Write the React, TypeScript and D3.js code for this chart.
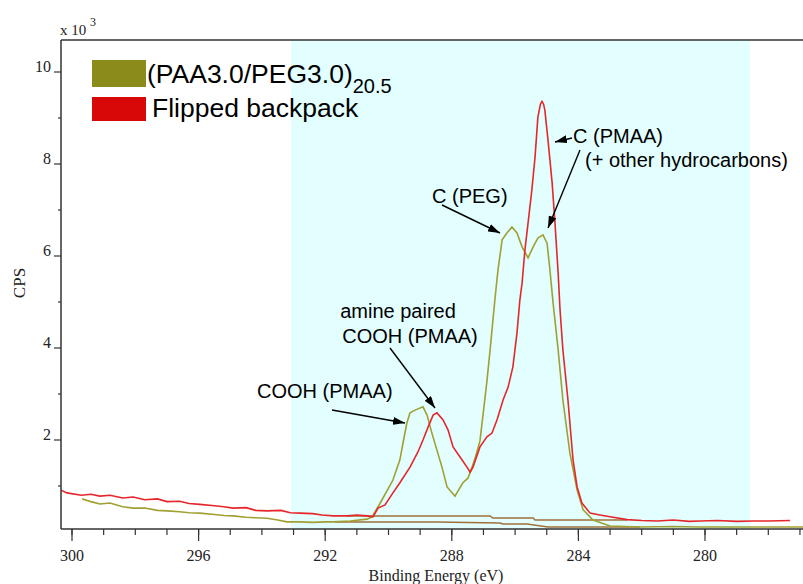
import React from "react";
import * as d3 from "d3";

// ---- data (binding energy eV, CPS x10^3) ----
const redEV = [300.35, 300.16, 299.7, 299.4, 299.12, 298.8, 298.4, 298.07, 297.7, 297.3, 297.0, 296.6, 296.3, 295.96, 295.5, 295.2, 294.91, 294.5, 294.2, 293.84, 293.4, 293.1, 292.8, 292.4, 292.1, 291.75, 291.3, 291.0, 290.68, 290.49, 290.33, 290.11, 289.86, 289.64, 289.32, 289.07, 288.91, 288.75, 288.59, 288.47, 288.28, 288.12, 287.96, 287.74, 287.52, 287.42, 287.33, 287.11, 286.89, 286.73, 286.57, 286.38, 286.22, 286.07, 285.94, 285.85, 285.78, 285.69, 285.59, 285.47, 285.37, 285.28, 285.2, 285.15, 285.1, 285.06, 284.96, 284.83, 284.74, 284.64, 284.58, 284.49, 284.33, 284.17, 284.04, 283.89, 283.63, 283.32, 283.0, 282.46, 282.0, 281.5, 281.0, 280.5, 280.16, 279.6, 279.0, 278.5, 278.0, 277.31];
const redCPS = [0.91, 0.85, 0.8, 0.82, 0.78, 0.8, 0.74, 0.76, 0.7, 0.72, 0.66, 0.67, 0.62, 0.6, 0.57, 0.55, 0.52, 0.53, 0.47, 0.46, 0.47, 0.42, 0.41, 0.4, 0.37, 0.35, 0.35, 0.37, 0.35, 0.33, 0.52, 0.59, 0.85, 1.07, 1.41, 1.74, 2.0, 2.28, 2.54, 2.59, 2.44, 2.22, 1.85, 1.63, 1.41, 1.3, 1.41, 1.85, 2.07, 2.15, 2.44, 2.87, 3.15, 3.59, 4.33, 5.04, 5.41, 6.13, 6.72, 7.44, 8.15, 9.02, 9.3, 9.36, 9.3, 9.17, 8.52, 7.59, 6.72, 5.63, 4.83, 3.96, 2.87, 1.57, 0.98, 0.63, 0.41, 0.37, 0.33, 0.27, 0.25, 0.24, 0.26, 0.23, 0.24, 0.25, 0.23, 0.24, 0.24, 0.25];

const oliveEV = [299.68, 299.4, 299.12, 298.8, 298.4, 298.07, 297.7, 297.3, 297.0, 296.6, 296.3, 295.96, 295.5, 295.2, 294.91, 294.5, 294.2, 293.84, 293.5, 293.21, 292.8, 292.4, 292.0, 291.75, 291.2, 290.68, 290.52, 290.27, 289.86, 289.64, 289.54, 289.42, 289.32, 289.16, 288.91, 288.78, 288.63, 288.47, 288.31, 288.15, 287.9, 287.65, 287.49, 287.36, 287.27, 287.11, 286.98, 286.89, 286.79, 286.64, 286.54, 286.41, 286.26, 286.1, 285.94, 285.78, 285.59, 285.43, 285.28, 285.12, 284.99, 284.9, 284.8, 284.64, 284.49, 284.27, 284.04, 283.85, 283.54, 283.0, 282.5, 282.0, 281.0, 280.16, 279.0, 278.0, 276.9];
const oliveCPS = [0.72, 0.66, 0.61, 0.63, 0.55, 0.52, 0.52, 0.47, 0.46, 0.44, 0.42, 0.41, 0.38, 0.36, 0.35, 0.32, 0.31, 0.3, 0.26, 0.22, 0.22, 0.21, 0.22, 0.22, 0.24, 0.28, 0.33, 0.62, 1.13, 1.57, 1.94, 2.37, 2.59, 2.65, 2.72, 2.54, 2.15, 1.78, 1.41, 0.98, 0.78, 1.07, 1.17, 1.41, 1.59, 1.98, 2.74, 3.28, 3.96, 5.04, 5.7, 6.35, 6.5, 6.63, 6.5, 6.2, 5.96, 6.2, 6.39, 6.46, 6.28, 5.7, 4.98, 3.96, 2.87, 1.72, 0.91, 0.48, 0.26, 0.13, 0.12, 0.11, 0.12, 0.11, 0.11, 0.11, 0.11];

const bg1EV = [291.31, 286.79, 286.7, 285.43, 285.37, 282.46];
const bg1CPS = [0.348, 0.348, 0.304, 0.304, 0.261, 0.261];
const bg2EV = [291.69, 288.47, 286.48, 286.38, 285.62, 284.96, 282.05];
const bg2CPS = [0.217, 0.217, 0.196, 0.174, 0.174, 0.109, 0.109];

const xMajorTicks = [300, 296, 292, 288, 284, 280];
const xMinorTicks = d3.range(300, 276, -1);
const yMajorTicks = [2, 4, 6, 8, 10];
const yMinorTicks = [1, 3, 5, 7, 9];
const regionEV = [293.08, 278.58];

const legendItems = [
  { label: "(PAA3.0/PEG3.0)", sub: "20.5", color: "#8b8b1b" },
  { label: "Flipped backpack", sub: "", color: "#d80808" },
];

export default function App() {
  const W = 803, H = 584;
  const left = 61, top = 40, bottom = 529, right = 803;
  const x = d3.scaleLinear().domain([300, 280]).range([72, 705]);
  const y = d3.scaleLinear().domain([0, 10]).range([532, 72]);

  const line = d3.line<[number, number]>().x(d => x(d[0])).y(d => y(d[1]));
  const red = line(redEV.map((e, i) => [e, redCPS[i]]) as [number, number][]) || "";
  const olive = line(oliveEV.map((e, i) => [e, oliveCPS[i]]) as [number, number][]) || "";
  const bg1 = line(bg1EV.map((e, i) => [e, bg1CPS[i]]) as [number, number][]) || "";
  const bg2 = line(bg2EV.map((e, i) => [e, bg2CPS[i]]) as [number, number][]) || "";

  const serif = "'Liberation Serif', 'DejaVu Serif', serif";
  const sans = "'Liberation Sans', Arial, sans-serif";

  const arrows = [
    { x1: 332, y1: 410, x2: 405, y2: 423 },
    { x1: 390, y1: 348, x2: 435, y2: 408 },
    { x1: 442, y1: 205, x2: 500, y2: 233 },
    { x1: 572, y1: 138, x2: 555, y2: 142 },
    { x1: 580, y1: 150, x2: 548, y2: 228 },
  ];

  return (
    <svg width={W} height={H} style={{ position: "absolute", left: 0, top: 0, background: "#fff" }}>
      <defs>
        <clipPath id="plot">
          <rect x={left} y={top} width={right - left} height={bottom - top} />
        </clipPath>
        <marker id="ah" viewBox="0 0 12 8" refX="12" refY="4" markerWidth="12" markerHeight="8" markerUnits="userSpaceOnUse" orient="auto">
          <path d="M0,0 L12,4 L0,8 z" fill="#000" />
        </marker>
      </defs>
      <rect x={x(regionEV[0])} y={top} width={x(regionEV[1]) - x(regionEV[0])} height={bottom - top} fill="#e3fefe" />
      <g clipPath="url(#plot)" fill="none">
        <path d={bg2} stroke="#a0703a" strokeWidth={1.5} />
        <path d={bg1} stroke="#a0703a" strokeWidth={1.5} />
        <path d={olive} stroke="#a0a032" strokeWidth={1.6} />
        <path d={red} stroke="#e6262a" strokeWidth={1.6} />
      </g>
      {/* frame */}
      <line x1={left} y1={top} x2={right} y2={top} stroke="#333" strokeWidth={1.5} />
      <line x1={left} y1={top} x2={left} y2={bottom} stroke="#333" strokeWidth={1.5} />
      <line x1={left} y1={bottom} x2={right} y2={bottom} stroke="#333" strokeWidth={1.5} />
      {/* x ticks */}
      {xMinorTicks.map(t => (
        <line key={"xm" + t} x1={x(t)} x2={x(t)} y1={bottom} y2={bottom + 6} stroke="#333" strokeWidth={1.2} />
      ))}
      {xMajorTicks.map(t => (
        <g key={"xM" + t}>
          <line x1={x(t)} x2={x(t)} y1={bottom} y2={bottom + 12} stroke="#333" strokeWidth={1.2} />
          <text x={x(t)} y={561} textAnchor="middle" fontFamily={serif} fontSize={16} fill="#222">{t}</text>
        </g>
      ))}
      {/* y ticks */}
      {yMinorTicks.map(t => (
        <line key={"ym" + t} x1={left - 3} x2={left} y1={y(t)} y2={y(t)} stroke="#333" strokeWidth={1.2} />
      ))}
      {yMajorTicks.map(t => (
        <g key={"yM" + t}>
          <line x1={left - 7} x2={left} y1={y(t)} y2={y(t)} stroke="#333" strokeWidth={1.2} />
          <text x={51} y={y(t)} textAnchor="end" fontFamily={serif} fontSize={16} fill="#222">{t}</text>
        </g>
      ))}
      <text x={60} y={35} fontFamily={serif} fontSize={15} fill="#222">x 10</text>
      <text x={90} y={26} fontFamily={serif} fontSize={12} fill="#222">3</text>
      <text transform="translate(25,283) rotate(-90)" textAnchor="middle" fontFamily={serif} fontSize={17} fill="#222">CPS</text>
      <text x={436} y={581} textAnchor="middle" fontFamily={serif} fontSize={16} fill="#222">Binding Energy (eV)</text>
      {/* legend */}
      {legendItems.map((d, i) => (
        <g key={d.label}>
          <rect x={92} y={i === 0 ? 60 : 97} width={54} height={i === 0 ? 27 : 24} fill={d.color} />
          <text x={i === 0 ? 147 : 152} y={i === 0 ? 83 : 117} fontFamily={sans} fontSize={26.5} fill="#000">
            {d.label}
            {d.sub ? <tspan fontSize={20} dy={10}>{d.sub}</tspan> : null}
          </text>
        </g>
      ))}
      {/* annotations */}
      <g fontFamily={sans} fontSize={20} fill="#000">
        <text x={257} y={398}>COOH (PMAA)</text>
        <text x={398} y={318} textAnchor="middle">amine paired</text>
        <text x={410} y={343} textAnchor="middle">COOH (PMAA)</text>
        <text x={432} y={203}>C (PEG)</text>
        <text x={573} y={143}>C (PMAA)</text>
        <text x={585} y={167}>(+ other hydrocarbons)</text>
      </g>
      {arrows.map((a, i) => (
        <line key={"a" + i} x1={a.x1} y1={a.y1} x2={a.x2} y2={a.y2} stroke="#000" strokeWidth={1.4} markerEnd="url(#ah)" />
      ))}
    </svg>
  );
}
